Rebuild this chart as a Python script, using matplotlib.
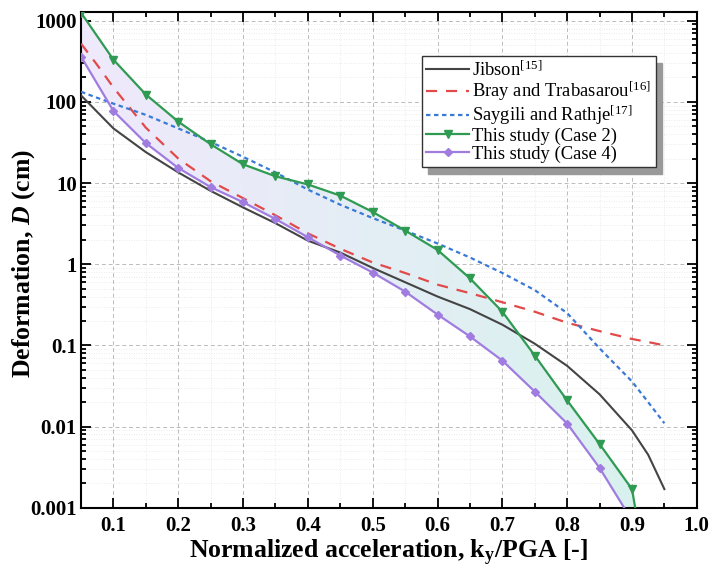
import numpy as np
import matplotlib
matplotlib.use('Agg')
import matplotlib.pyplot as plt
from matplotlib.colors import LinearSegmentedColormap
from matplotlib.ticker import MultipleLocator, FixedLocator, LogLocator, NullFormatter, FuncFormatter

plt.rcParams['font.family'] = ['Liberation Serif', 'DejaVu Serif']
plt.rcParams['mathtext.fontset'] = 'custom'
plt.rcParams['mathtext.it'] = 'Liberation Serif:italic:bold'
plt.rcParams['mathtext.rm'] = 'Liberation Serif:bold'

# Jibson, Bray & Trabasarou, Saygili & Rathje
x_ref = [0.05, 0.075, 0.10, 0.15, 0.20, 0.25, 0.30, 0.35, 0.40, 0.45, 0.50,
         0.55, 0.60, 0.65, 0.70, 0.75, 0.80, 0.85, 0.90, 0.925, 0.95]
jibson = [120, 75, 47, 24, 13.5, 8.0, 5.0, 3.2, 1.95, 1.39, 0.90,
          0.60, 0.40, 0.28, 0.18, 0.105, 0.056, 0.025, 0.009, 0.0045, 0.0017]
bray = [520, 284, 150, 48, 20, 10.5, 6.5, 4.0, 2.4, 1.55, 1.05,
        0.78, 0.56, 0.44, 0.34, 0.26, 0.19, 0.15, 0.12, 0.11, 0.10]
saygili = [133, 112, 95, 69, 47, 32, 21, 13.5, 8.3, 5.4, 3.7,
           2.6, 1.8, 1.21, 0.78, 0.48, 0.25, 0.092, 0.036, 0.020, 0.011]

# this study
x_case2 = [0.05, 0.10, 0.15, 0.20, 0.25, 0.30, 0.35, 0.40, 0.45, 0.50,
           0.55, 0.60, 0.65, 0.70, 0.75, 0.80, 0.85, 0.90, 0.905]
case2 = [1250, 330, 123, 57, 30, 17, 12.1, 9.6, 7.0, 4.4,
         2.6, 1.5, 0.67, 0.26, 0.075, 0.021, 0.0061, 0.0017, 0.001]
x_case4 = [0.05, 0.10, 0.15, 0.20, 0.25, 0.30, 0.35, 0.40, 0.45, 0.50,
           0.55, 0.60, 0.65, 0.70, 0.75, 0.80, 0.85, 0.888]
case4 = [360, 77, 31, 15.3, 8.9, 5.8, 3.6, 2.15, 1.28, 0.79,
         0.46, 0.24, 0.129, 0.065, 0.027, 0.0109, 0.0031, 0.001]

labels = ['Jibson$^{\\mathregular{[15]}}$',
          'Bray and Trabasarou$^{\\mathregular{[16]}}$',
          'Saygili and Rathje$^{\\mathregular{[17]}}$',
          'This study (Case 2)',
          'This study (Case 4)']

fig = plt.figure(figsize=(7.11, 5.68), dpi=100)
ax = fig.add_axes([0.114, 0.106, 0.866, 0.873])
ax.set_yscale('log')

# shaded band between case 2 and case 4, gradient lavender -> pale cyan
poly = ax.fill(np.r_[x_case2, x_case4[::-1]], np.r_[case2, case4[::-1]],
               facecolor='none', edgecolor='none')[0]
cmap = LinearSegmentedColormap.from_list('band', ['#efe9fc', '#d9f2ee'])
grad = np.linspace(0, 1, 256).reshape(1, -1)
im = ax.imshow(grad, extent=[0.05, 0.91, 0.001, 1300], aspect='auto',
               cmap=cmap, origin='lower', zorder=1, interpolation='bilinear')
im.set_clip_path(poly)

ax.plot(x_ref, jibson, color='#444444', lw=1.5, zorder=3, label=labels[0])
ax.plot(x_ref, bray, color='#e24a4a', lw=1.6, ls=(0, (5, 4)), zorder=3, label=labels[1])
ax.plot(x_ref, saygili, color='#3a7ad6', lw=1.6, ls=(0, (2, 1.6)), zorder=3, label=labels[2])
ax.plot(x_case2, case2, color='#2f9a52', lw=1.6, marker='v', ms=5.5,
        markevery=list(range(len(x_case2) - 1)), zorder=4, label=labels[3])
ax.plot(x_case4, case4, color='#a07ce0', lw=1.6, marker='D', ms=4.5,
        markevery=list(range(len(x_case4) - 1)), zorder=4, label=labels[4])

ax.set_xlim(0.05, 1.0)
ax.set_ylim(0.001, 1280)

ax.xaxis.set_major_locator(MultipleLocator(0.1))
ax.xaxis.set_minor_locator(MultipleLocator(0.05))
ax.xaxis.set_major_formatter(FuncFormatter(lambda v, p: '%.1f' % v))
ax.yaxis.set_major_locator(FixedLocator([0.001, 0.01, 0.1, 1, 10, 100, 1000]))
ax.yaxis.set_minor_locator(LogLocator(base=10, subs=np.arange(2, 10), numticks=20))
ax.yaxis.set_major_formatter(FuncFormatter(lambda v, p: '%g' % v))
ax.yaxis.set_minor_formatter(NullFormatter())

ax.grid(which='major', color='#bbbbbb', ls=(0, (4, 3)), lw=0.7)
ax.grid(which='minor', color='#e4e4e4', ls=(0, (1, 2)), lw=0.6)
ax.set_axisbelow(True)

ax.tick_params(which='both', direction='in', top=True, right=True, width=1.3)
ax.tick_params(which='major', length=7, labelsize=15, pad=6)
ax.tick_params(axis='y', which='major', pad=3)
ax.tick_params(which='minor', length=3.5)
for t in ax.get_xticklabels() + ax.get_yticklabels():
    t.set_fontweight('bold')
for s in ax.spines.values():
    s.set_linewidth(1.5)

ax.set_xlabel('Normalized acceleration, k$_{\\mathregular{y}}$/PGA [-]',
              fontsize=18.5, fontweight='bold', labelpad=1)
ax.set_ylabel('Deformation, $\\mathit{D}$ (cm)', fontsize=18.5, fontweight='bold')
ax.yaxis.set_label_coords(-0.072, 0.492)

leg = ax.legend(loc='upper left', bbox_to_anchor=(0.553, 0.912), fontsize=13.4,
                frameon=True, fancybox=False, edgecolor='#333333', framealpha=1,
                shadow={'ox': 5, 'oy': -5, 'color': '#999999', 'alpha': 1},
                handlelength=2.3, handletextpad=0.15, labelspacing=0.02,
                borderpad=0.25, borderaxespad=0)
leg.get_frame().set_linewidth(1.0)
leg.set_zorder(6)

fig.savefig('out.png', dpi=100)
